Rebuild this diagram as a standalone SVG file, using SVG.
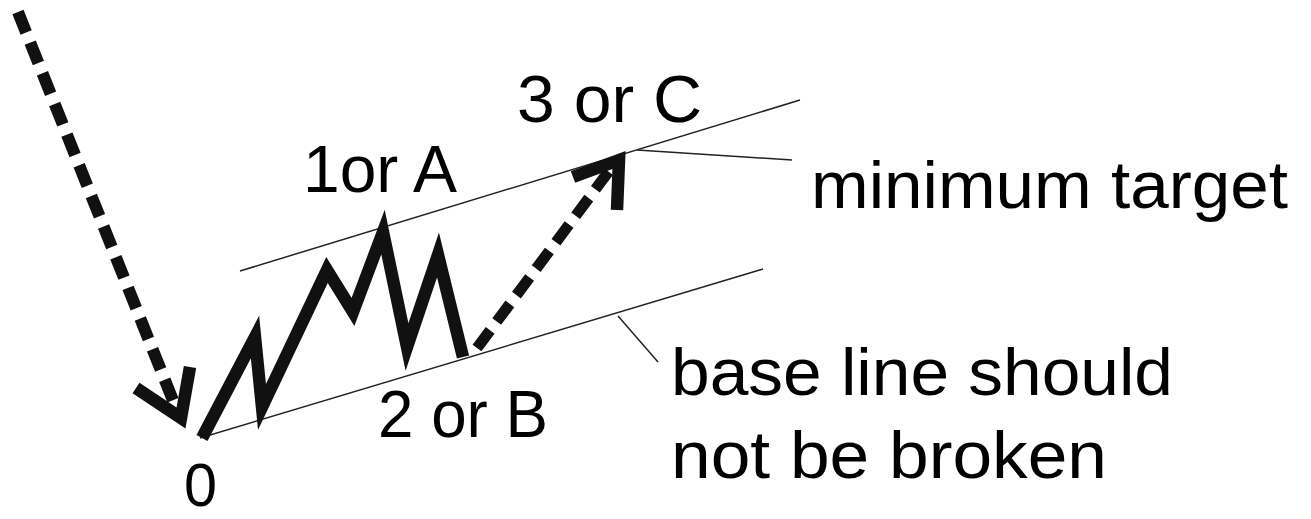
<svg xmlns="http://www.w3.org/2000/svg" width="1311" height="519" viewBox="0 0 1311 519">
<style>
.thin{stroke:#222;stroke-width:1.5;fill:none}
.thick{stroke:#111;stroke-width:12.5;fill:none;stroke-linejoin:miter;stroke-miterlimit:10}
.dash{stroke:#111;stroke-width:12;fill:none;stroke-dasharray:22 11}
.lbl{font-family:"Liberation Sans",Arial,sans-serif;font-size:67px;fill:#000}
</style>
<rect width="1311" height="519" fill="#fff"/>
<g id="connectors">
<line class="thin" x1="240" y1="271" x2="800" y2="100"/>
<line class="thin" x1="200" y1="438" x2="763" y2="269"/>
<line class="thin" x1="637" y1="150" x2="792" y2="160"/>
<line class="thin" x1="618" y1="316" x2="658" y2="362"/>
<line class="dash" x1="18" y1="12" x2="176" y2="408"/>
<polyline class="thick" points="136,388 181,418 190,367"/>
<polyline class="thick" points="202,438 255,337 262,407 327,270 353,312 383,232 407,347 438,255 463,357"/>
<line class="dash" style="stroke-width:11" x1="477" y1="348" x2="612" y2="167"/>
<polyline class="thick" points="573,177 619,160 617,210"/>
</g>
<g id="label-0"><text class="lbl" x="184" y="506" style="font-size:61px" textLength="33" lengthAdjust="spacingAndGlyphs">0</text></g>
<g id="label-1A"><text class="lbl" x="303" y="192" textLength="154" lengthAdjust="spacingAndGlyphs">1or A</text></g>
<g id="label-2B"><text class="lbl" x="378" y="437" textLength="170" lengthAdjust="spacingAndGlyphs">2 or B</text></g>
<g id="label-3C"><text class="lbl" x="517" y="122" textLength="185" lengthAdjust="spacingAndGlyphs">3 or C</text></g>
<g id="label-min"><text class="lbl" x="811" y="208" textLength="477" lengthAdjust="spacingAndGlyphs">minimum target</text></g>
<g id="label-base">
<text class="lbl" x="671" y="395" textLength="502" lengthAdjust="spacingAndGlyphs">base line should</text>
<text class="lbl" x="671" y="478" textLength="436" lengthAdjust="spacingAndGlyphs">not be broken</text>
</g>
</svg>
